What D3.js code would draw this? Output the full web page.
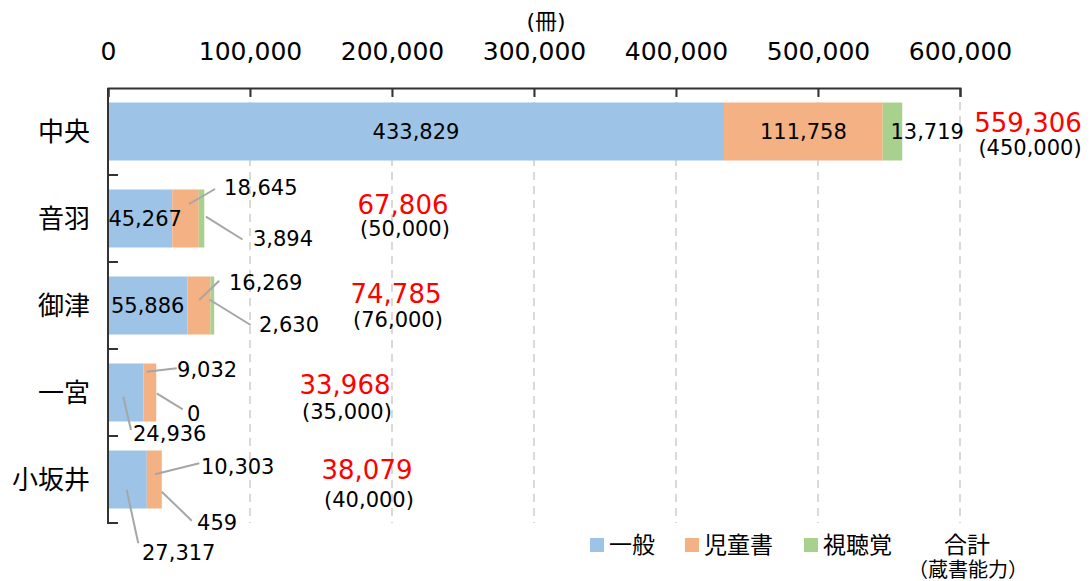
<!DOCTYPE html>
<html>
<head>
<meta charset="utf-8">
<script src="https://cdn.jsdelivr.net/npm/d3@7"></script>
<style>
  body { margin: 0; background: #fff; }
  svg text { font-family: "DejaVu Sans", "Noto Sans CJK JP", sans-serif; fill: #000; }
</style>
</head>
<body>
<svg width="1090" height="581"></svg>
<script>
// data
var categories = ["中央", "音羽", "御津", "一宮", "小坂井"];
var seriesNames = ["一般", "児童書", "視聴覚"];
var ippan = [433829, 45267, 55886, 24936, 27317];
var jidousho = [111758, 18645, 16269, 9032, 10303];
var shichoukaku = [13719, 3894, 2630, 0, 459];
var capacity = [450000, 50000, 76000, 35000, 40000];
var xTicks = [0, 100000, 200000, 300000, 400000, 500000, 600000];
var colors = ["#9DC3E6", "#F4B183", "#A9D18E"];

// label layout (offsets from segment centre), not data
var labelLayout = [
  [{m: "in", dx: 0}, {m: "in", dx: 0}, {m: "start", dx: -2}],
  [{m: "in", dx: 5}, {m: "out", l: [3.5, -14.5, 29.5, -29.5], t: [38.5, -23.5]}, {m: "out", l: [4.4, -1.8, 41, 21], t: [51.4, 27.5]}],
  [{m: "in", dx: 0}, {m: "out", l: [0.3, -5.5, 20.3, -24.8], t: [30, -15.5]}, {m: "out", l: [-3, -6, 38.3, 19.5], t: [46.6, 26.5]}],
  [{m: "out", l: [-2.4, 4.2, 5.3, 37.5], t: [7.3, 48.5]}, {m: "out", l: [-3.1, -20.8, 26.9, -24.2], t: [27.2, -15.5]}, {m: "out", l: [0.5, 0.8, 26.5, 16.8], t: [30.8, 28.5]}],
  [{m: "out", l: [-0.7, 10.5, 10.9, 63.8], t: [14.6, 80.5]}, {m: "out", l: [0.9, -5.2, 45.2, -16.2], t: [46.9, -5.5]}, {m: "out", l: [0, 12.2, 30, 41.2], t: [35.3, 50.5]}]
];
// total label: [x centre, red dy, capacity dy]
var totalLayout = [[1028, -8.5, 16], [403, -13.5, 10.5], [396, -11.5, 14.5], [345, -7.5, 19], [367, -9.5, 20.5]];

var svg = d3.select("svg");
var fmt = d3.format(",");

var xScale = d3.scaleLinear().domain([0, 600000]).range([108, 960]);
var yScale = d3.scaleBand().domain(categories).range([88, 523])
  .paddingInner(1 / 3).paddingOuter(1 / 6);

var rows = categories.map(function (c, i) {
  return {cat: c, i: i, vals: [ippan[i], jidousho[i], shichoukaku[i]]};
});

// grid
svg.append("g").selectAll("line")
  .data(xTicks.slice(1))
  .enter().append("line")
  .attr("x1", d => xScale(d)).attr("x2", d => xScale(d))
  .attr("y1", 88).attr("y2", 523)
  .attr("stroke", "#D9D9D9").attr("stroke-width", 2)
  .attr("stroke-dasharray", "8,6");

// bars
var stack = d3.stack().keys([0, 1, 2]).value((d, k) => d.vals[k]);
var layers = stack(rows);

layers.forEach(function (layer, k) {
  svg.append("g").selectAll("rect")
    .data(layer)
    .enter().append("rect")
    .attr("x", d => xScale(d[0]))
    .attr("y", d => yScale(d.data.cat))
    .attr("width", d => xScale(d[1]) - xScale(d[0]))
    .attr("height", yScale.bandwidth())
    .attr("fill", colors[k]);
});

// top axis
var xAxis = svg.append("g")
  .attr("transform", "translate(0,88)")
  .call(d3.axisTop(xScale).tickValues(xTicks).tickFormat(fmt)
    .tickSizeInner(-9).tickSizeOuter(-9).tickPadding(28));
xAxis.select(".domain").attr("stroke", "#333").attr("stroke-width", 2);
xAxis.selectAll(".tick line").attr("stroke", "#333").attr("stroke-width", 2);
xAxis.selectAll(".tick text").attr("font-size", "25px")
  .style("font-family", "'DejaVu Sans', 'Noto Sans CJK JP', sans-serif").attr("fill", "#000");

svg.append("text").attr("x", 546).attr("y", 21).attr("dy", "0.35em")
  .attr("text-anchor", "middle").attr("font-size", "22px").text("(冊)");

// left axis (ticks at band boundaries)
var step = yScale.step();
var bounds = categories.map(c => yScale(c) - step / 6).concat([523]);
svg.append("line").attr("x1", 108).attr("x2", 108).attr("y1", 88).attr("y2", 523)
  .attr("stroke", "#333").attr("stroke-width", 2);
svg.append("g").selectAll("line").data(bounds.slice(1))
  .enter().append("line")
  .attr("x1", 107).attr("x2", 118).attr("y1", d => d).attr("y2", d => d)
  .attr("stroke", "#333").attr("stroke-width", 2);

svg.append("g").selectAll("text").data(categories)
  .enter().append("text")
  .attr("x", 90)
  .attr("y", d => yScale(d) + yScale.bandwidth() / 2)
  .attr("dy", "0.35em")
  .attr("text-anchor", "end")
  .attr("font-size", "26px")
  .text(d => d);

// value labels
layers.forEach(function (layer, k) {
  layer.forEach(function (d, i) {
    var cx = (xScale(d[0]) + xScale(d[1])) / 2;
    var cy = yScale(d.data.cat) + yScale.bandwidth() / 2;
    var lay = labelLayout[i][k];
    var txt = fmt(d.data.vals[k]);
    if (lay.m === "in") {
      svg.append("text").attr("x", cx + lay.dx).attr("y", cy).attr("dy", "0.35em")
        .attr("text-anchor", "middle").attr("font-size", "21px").text(txt);
    } else if (lay.m === "start") {
      svg.append("text").attr("x", cx + lay.dx).attr("y", cy).attr("dy", "0.35em")
        .attr("text-anchor", "start").attr("font-size", "21px").text(txt);
    } else {
      svg.append("line")
        .attr("x1", cx + lay.l[0]).attr("y1", cy + lay.l[1])
        .attr("x2", cx + lay.l[2]).attr("y2", cy + lay.l[3])
        .attr("stroke", "#A6A6A6").attr("stroke-width", 2);
      svg.append("text").attr("x", cx + lay.t[0]).attr("y", cy + lay.t[1])
        .attr("text-anchor", "start").attr("font-size", "21px").text(txt);
    }
  });
});

// totals
rows.forEach(function (r, i) {
  var total = d3.sum(r.vals);
  var cy = yScale(r.cat) + yScale.bandwidth() / 2;
  var t = totalLayout[i];
  svg.append("text").attr("x", t[0]).attr("y", cy + t[1]).attr("dy", "0.35em")
    .attr("text-anchor", "middle").attr("font-size", "26px")
    .style("fill", "#FF0000").text(fmt(total));
  svg.append("text").attr("x", t[0] + 2).attr("y", cy + t[2]).attr("dy", "0.35em")
    .attr("text-anchor", "middle").attr("font-size", "21px")
    .text("(" + fmt(capacity[i]) + ")");
});

// legend
var legendX = [590, 685, 804];
seriesNames.forEach(function (s, k) {
  svg.append("rect").attr("x", legendX[k]).attr("y", 538)
    .attr("width", 14).attr("height", 14).attr("fill", colors[k]);
  svg.append("text").attr("x", legendX[k] + 19).attr("y", 545).attr("dy", "0.35em")
    .attr("font-size", "23px").text(s);
});
svg.append("text").attr("x", 967).attr("y", 545).attr("dy", "0.35em")
  .attr("text-anchor", "middle").attr("font-size", "23px").text("合計");
svg.append("text").attr("x", 968).attr("y", 570).attr("dy", "0.35em")
  .attr("text-anchor", "middle").attr("font-size", "20px").text("（蔵書能力）");
</script>
</body>
</html>
